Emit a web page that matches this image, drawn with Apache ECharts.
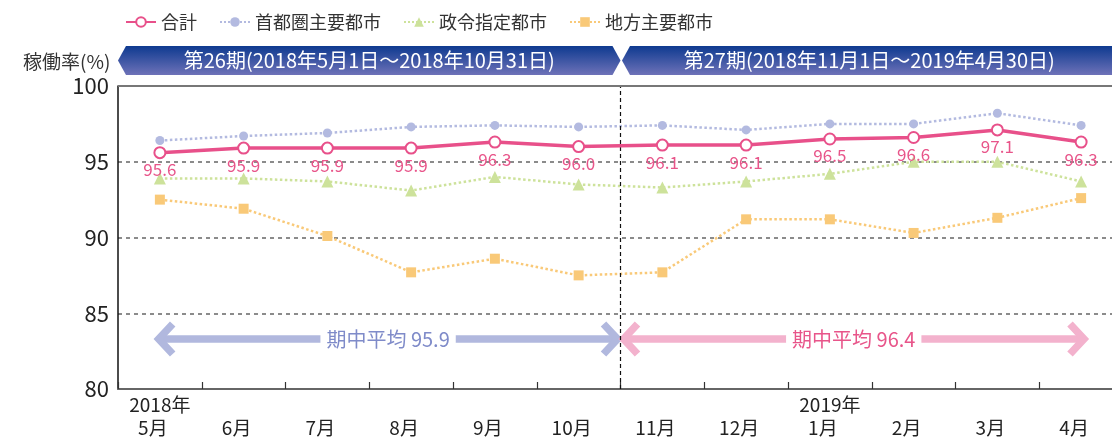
<!DOCTYPE html>
<html>
<head>
<meta charset="utf-8">
<script src="https://cdn.jsdelivr.net/npm/echarts@6/dist/echarts.min.js"></script>
<style>
  html, body { margin: 0; padding: 0; background: #fff; }
  #chart { width: 1112px; height: 440px; }
</style>
</head>
<body>
<div id="chart"></div>
<script>
// 月（カテゴリ）
var months = ['5月', '6月', '7月', '8月', '9月', '10月', '11月', '12月', '1月', '2月', '3月', '4月'];
var yearLabels = { 0: '2018年', 8: '2019年' };

// 稼働率（%）
var total    = [95.6, 95.9, 95.9, 95.9, 96.3, 96.0, 96.1, 96.1, 96.5, 96.6, 97.1, 96.3];
var capital  = [96.4, 96.7, 96.9, 97.3, 97.4, 97.3, 97.4, 97.1, 97.5, 97.5, 98.2, 97.4];
var designed = [93.9, 93.9, 93.7, 93.1, 94.0, 93.5, 93.3, 93.7, 94.2, 95.0, 95.0, 93.7];
var regional = [92.5, 91.9, 90.1, 87.7, 88.6, 87.5, 87.7, 91.2, 91.2, 90.3, 91.3, 92.6];

// 期中平均
var periods = ['第26期(2018年5月1日～2018年10月31日)', '第27期(2018年11月1日～2019年4月30日)'];
var periodAvg = [95.9, 96.4];

var FONT = '"Noto Sans CJK JP", "Noto Sans", sans-serif';
var chart = echarts.init(document.getElementById('chart'));

function arrowItem(params, api) {
  var y = api.value(2);
  var p0 = api.coord([api.value(0), y]);
  var p1 = api.coord([api.value(1), y]);
  var color = params.dataIndex === 0 ? '#b1b8de' : '#f3b2cd';
  var tcolor = params.dataIndex === 0 ? '#7f8bc9' : '#e8558a';
  var h = 15, lw = 7.5;
  return {
    type: 'group',
    children: [
      { type: 'line', shape: { x1: p0[0] + 4, y1: p0[1], x2: p1[0] - 4, y2: p1[1] },
        style: { stroke: color, lineWidth: lw } },
      { type: 'polyline', shape: { points: [[p0[0] + h + 2, p0[1] - h], [p0[0] + 3, p0[1]], [p0[0] + h + 2, p0[1] + h]] },
        style: { stroke: color, lineWidth: lw, fill: null } },
      { type: 'polyline', shape: { points: [[p1[0] - h - 2, p1[1] - h], [p1[0] - 3, p1[1]], [p1[0] - h - 2, p1[1] + h]] },
        style: { stroke: color, lineWidth: lw, fill: null } },
      { type: 'text', x: (p0[0] + p1[0]) / 2, y: p0[1],
        style: { text: '期中平均 ' + api.value(3).toFixed(1), fill: tcolor, font: '20px ' + FONT,
                 align: 'center', verticalAlign: 'middle', backgroundColor: '#fff', padding: [2, 6] } }
    ]
  };
}

chart.setOption({
  animation: false,
  textStyle: { fontFamily: FONT },
  title: {
    text: '稼働率(%)', left: 18, top: 47,
    textStyle: { fontSize: 19, fontWeight: 'normal', color: '#333', fontFamily: FONT }
  },
  legend: {
    left: 120, top: 8, itemWidth: 30, itemHeight: 12, itemGap: 22,
    textStyle: { fontSize: 18, color: '#333', fontFamily: FONT },
    data: ['合計', '首都圏主要都市', '政令指定都市', '地方主要都市']
  },
  grid: { left: 118, width: 1005, top: 86, height: 303, outerBoundsMode: 'none', containLabel: false },
  xAxis: [{
    type: 'category', data: months, boundaryGap: true,
    axisLine: { lineStyle: { color: '#666', width: 2 } },
    axisTick: { show: true, inside: true, interval: 0, length: 7, lineStyle: { color: '#333', width: 1.2 } },
    axisLabel: {
      color: '#222', fontSize: 19, lineHeight: 23, margin: 4, interval: 0,
      formatter: function (v, i) { return '{y|' + (yearLabels[i] || '') + '}\n{m|' + v + '}'; },
      rich: {
        y: { fontSize: 19, lineHeight: 23, color: '#222' },
        m: { fontSize: 19, lineHeight: 23, color: '#222', padding: [0, 14, 0, 0] }
      }
    }
  }, {
    type: 'value', min: -0.5, max: 11.5, show: false
  }],
  yAxis: {
    type: 'value', min: 80, max: 100, interval: 5,
    axisLine: { show: true, onZero: false, lineStyle: { color: '#111', width: 1.5 } },
    axisTick: { show: false },
    axisLabel: { color: '#222', fontSize: 22, margin: 9 },
    splitLine: { lineStyle: { color: '#666', type: [4, 4], width: 1.5 } }
  },
  series: [{
    name: '地方主要都市', type: 'line', data: regional,
    symbol: 'rect', symbolSize: 10,
    lineStyle: { color: '#f9c978', width: 2.5, type: 'dotted' },
    itemStyle: { color: '#f9c978' }
  }, {
    name: '政令指定都市', type: 'line', data: designed,
    symbol: 'triangle', symbolSize: 12,
    lineStyle: { color: '#cde29b', width: 2.5, type: 'dotted' },
    itemStyle: { color: '#cde29b' }
  }, {
    name: '首都圏主要都市', type: 'line', data: capital,
    symbol: 'circle', symbolSize: 9,
    lineStyle: { color: '#b3bae0', width: 2.5, type: 'dotted' },
    itemStyle: { color: '#b3bae0' }
  }, {
    name: '合計', type: 'line', data: total, z: 5,
    symbol: 'circle', symbolSize: 11,
    lineStyle: { color: '#e8508a', width: 3.5 },
    itemStyle: { color: '#fff', borderColor: '#e8508a', borderWidth: 2 },
    label: {
      show: true, position: 'bottom', distance: 2, color: '#e8558a', fontSize: 17,
      formatter: function (p) { return p.value.toFixed(1); }
    }
  }, {
    name: 'avg', type: 'custom', xAxisIndex: 1, renderItem: arrowItem,
    data: [[-0.05, 5.5, 83.3, periodAvg[0]], [5.5, 11.07, 83.3, periodAvg[1]]],
    silent: true, z: 1,
    markLine: {
      silent: true, symbol: 'none', label: { show: false },
      data: [
        { xAxis: 5.5, lineStyle: { color: '#111', type: [4, 3], width: 1.2 } },
        { yAxis: 100, lineStyle: { color: '#777', type: 'solid', width: 2 } }
      ]
    }
  }]
});

// 期間バナー（グリッド位置から算出）
var xl = chart.convertToPixel({ xAxisIndex: 1 }, -0.5);
var xm = chart.convertToPixel({ xAxisIndex: 1 }, 5.5);
var xr = chart.convertToPixel({ xAxisIndex: 1 }, 11.5);
var bt = 46, bb = 75, bm = (bt + bb) / 2, d = 8;
var grad = new echarts.graphic.LinearGradient(0, 0, 0, 1, [
  { offset: 0, color: '#0e3a90' }, { offset: 1, color: '#6e72b8' }
]);
chart.setOption({
  graphic: [
    { type: 'polygon', shape: { points: [[xl, bm], [xl + d, bt], [xm - d, bt], [xm, bm], [xm - d, bb], [xl + d, bb]] },
      style: { fill: grad } },
    { type: 'polygon', shape: { points: [[xm + 1.5, bm], [xm + d + 1.5, bt], [xr + 20, bt], [xr + 20, bb], [xm + d + 1.5, bb]] },
      style: { fill: grad } },
    { type: 'text', x: (xl + xm) / 2, y: bm,
      style: { text: periods[0], fill: '#fff', font: '20px ' + FONT, align: 'center', verticalAlign: 'middle' } },
    { type: 'text', x: (xm + 1112) / 2 + 3, y: bm,
      style: { text: periods[1], fill: '#fff', font: '20px ' + FONT, align: 'center', verticalAlign: 'middle' } }
  ]
});
</script>
</body>
</html>
